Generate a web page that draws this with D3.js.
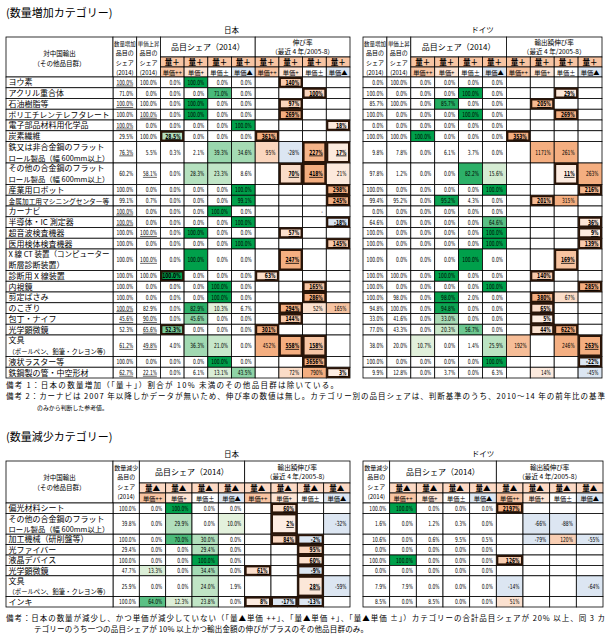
<!DOCTYPE html>
<html>
<head>
<meta charset="utf-8">
<script src="https://cdn.jsdelivr.net/npm/d3@7"></script>
<style>
body { margin: 0; background: #fff; }
text { font-family: "Noto Sans CJK JP", sans-serif; fill: #000; }
.num { font-family: "Liberation Sans Narrow", "DejaVu Sans Condensed", sans-serif; font-size: 7px; }
.cell { stroke: #000; stroke-width: 0.8; }
</style>
</head>
<body>
<script>
// ---- data: 数量増加カテゴリー ----
const upItems = [
    ["ヨウ素"], ["アクリル重合体"], ["石油樹脂等"], ["ポリエチレンテレフタレート"], ["電子部品材料用化学品"],
    ["炭素繊維"], ["鉄又は非合金鋼のフラット", "ロール製品（幅 600mm以上）"],
    ["その他の合金鋼のフラット", "ロール製品（幅 600mm以上）"], ["産業用ロボット"],
    ["金属加工用マシニングセンター等"], ["カーナビ"], ["半導体・IC 測定器"], ["超音波検査機器"],
    ["医用検体検査機器"], ["X 線 CT 装置（コンピューター", "断層診断装置）"], ["診断用 X 線装置"],
    ["内視鏡"], ["剪定ばさみ"], ["のこぎり"], ["包丁・ナイフ"], ["光学顕微鏡"],
    ["文具", "（ボールペン、鉛筆・クレヨン等）"], ["液状ラスター等"], ["鉄鋼製の管・中空形材"]
];
// 数量増加シェア, 単価上昇シェア, 品目シェア(単価++, +, ±, ▲)
const upJpShare = [
    [100.0, 100.0, 0.0, 100.0, 0.0, 0.0], [71.0, 0.0, 0.0, 0.0, 71.0, 0.0],
    [100.0, 100.0, 0.0, 100.0, 0.0, 0.0], [100.0, 100.0, 0.0, 100.0, 0.0, 0.0],
    [100.0, 0.0, 0.0, 0.0, 0.0, 100.0], [29.5, 100.0, 28.5, 0.0, 0.0, 0.0],
    [76.3, 5.5, 0.3, 2.1, 39.3, 34.6], [60.2, 58.1, 0.0, 28.3, 23.3, 8.6],
    [100.0, 0.0, 0.0, 0.0, 0.0, 100.0], [99.1, 0.7, 0.0, 0.0, 0.0, 99.1],
    [100.0, 0.0, 0.0, 0.0, 100.0, 0.0], [100.0, 0.0, 0.0, 0.0, 0.0, 100.0],
    [100.0, 100.0, 0.0, 100.0, 0.0, 0.0], [100.0, 0.0, 0.0, 0.0, 0.0, 100.0],
    [100.0, 100.0, 0.0, 100.0, 0.0, 0.0], [100.0, 100.0, 100.0, 0.0, 0.0, 0.0],
    [100.0, 0.0, 0.0, 0.0, 100.0, 0.0], [100.0, 0.0, 0.0, 0.0, 100.0, 0.0],
    [100.0, 82.9, 0.0, 82.9, 10.3, 6.7], [45.6, 90.0, 0.0, 45.6, 0.0, 0.0],
    [52.3, 65.6, 52.3, 0.0, 0.0, 0.0], [61.2, 49.8, 4.0, 36.3, 21.0, 0.0],
    [100.0, 0.0, 0.0, 0.0, 100.0, 0.0], [62.7, 22.1, 0.0, 6.1, 13.1, 43.5]
];
// 伸び率 (単価++, +, ±, ▲)
const upJpGrowth = [
    [null, 140, null, null], [null, null, 100, null], [null, 97, null, null], [null, 269, null, null],
    [null, null, null, 18], [361, null, null, null], [95, -28, 227, 17], [null, 70, 418, 21],
    [null, null, null, 298], [null, null, null, 245], [null, null, "-", null], [null, null, null, -18],
    [null, 57, null, null], [null, null, null, 145], [null, 247, null, null], [63, null, null, null],
    [null, null, 165, null], [null, null, 286, null], [null, 294, 52, 165], [null, 144, null, null],
    [301, null, null, null], [452, 558, 158, null], [null, null, 3656, null], [null, 72, 790, 3]
];
const upJpPick = [
    [0,1,0,0], [0,0,1,0], [0,1,0,0], [0,1,0,0], [0,0,0,1], [1,0,0,0], [0,0,1,1], [0,1,1,0],
    [0,0,0,1], [0,0,0,1], [0,0,0,0], [0,0,0,1], [0,1,0,0], [0,0,0,1], [0,1,0,0], [1,0,0,0],
    [0,0,1,0], [0,0,1,0], [0,1,0,0], [0,1,0,0], [1,0,0,0], [0,1,1,0], [0,0,1,0], [0,0,0,1]
];
const upJpShareBox = [5, 15, 20];
// underlined shares: 1 = 数量増加, 2 = 単価上昇, 3 = both
const upJpUnder = [1,0,1,2,1,0,1,2,0,0,1,1,2,0,2,0,0,0,1,3,2,3,0,3];

const upDeShare = [
    [0.0, 100.0, 0.0, 0.0, 0.0, 0.0], [100.0, 0.0, 0.0, 0.0, 100.0, 0.0],
    [85.7, 100.0, 0.0, 85.7, 0.0, 0.0], [100.0, 0.0, 0.0, 0.0, 100.0, 0.0],
    [0.0, 0.0, 0.0, 0.0, 0.0, 0.0], [100.0, 100.0, 100.0, 0.0, 0.0, 0.0],
    [9.8, 7.8, 0.0, 6.1, 3.7, 0.0], [97.8, 1.2, 0.0, 0.0, 82.2, 15.6],
    [100.0, 0.0, 0.0, 0.0, 0.0, 100.0], [99.4, 95.2, 0.0, 95.2, 4.3, 0.0],
    [0.0, 0.0, 0.0, 0.0, 0.0, 0.0], [64.6, 0.0, 0.0, 0.0, 0.0, 64.6],
    [100.0, 0.0, 0.0, 0.0, 0.0, 100.0], [100.0, 0.0, 0.0, 0.0, 0.0, 100.0],
    [100.0, 0.0, 0.0, 0.0, 100.0, 0.0], [100.0, 100.0, 0.0, 100.0, 0.0, 0.0],
    [100.0, 0.0, 0.0, 0.0, 0.0, 100.0], [100.0, 98.0, 0.0, 98.0, 2.0, 0.0],
    [94.8, 100.0, 0.0, 94.8, 0.0, 0.0], [33.0, 41.6, 0.0, 33.0, 0.0, 0.0],
    [77.0, 43.3, 0.0, 20.3, 56.7, 0.0], [38.0, 20.0, 10.7, 0.0, 1.4, 25.9],
    [100.0, 0.0, 0.0, 0.0, 0.0, 100.0], [9.9, 12.8, 0.0, 3.7, 0.0, 6.3]
];
const upDeGrowth = [
    [null, null, null, null], [null, null, 29, null], [null, 205, null, null], [null, null, 269, null],
    [null, null, null, null], [353, null, null, null], [null, 1171, 261, null], [null, null, 11, 263],
    [null, null, null, 216], [null, 201, 315, null], [null, null, null, null], [null, null, null, 36],
    [null, null, null, 9], [null, null, null, 139], [null, null, 169, null], [null, 140, null, null],
    [null, null, null, 285], [null, 380, 67, null], [null, 65, null, null], [null, 5, null, null],
    [null, 44, 622, null], [192, null, 246, 263], [null, null, null, -22], [null, 14, null, -45]
];
const upDePick = [
    [0,0,0,0], [0,0,1,0], [0,1,0,0], [0,0,1,0], [0,0,0,0], [1,0,0,0], [0,0,0,0], [0,0,1,0],
    [0,0,0,1], [0,1,0,0], [0,0,0,0], [0,0,0,1], [0,0,0,1], [0,0,0,1], [0,0,1,0], [0,1,0,0],
    [0,0,0,1], [0,1,0,0], [0,1,0,0], [0,1,0,0], [0,1,1,0], [0,0,0,1], [0,0,0,1], [0,0,0,0]
];

// ---- data: 数量減少カテゴリー ----
const downItems = [
    ["偏光材料シート"], ["その他の合金鋼のフラット", "ロール製品（幅 600mm以上）"], ["加工機械（研削盤等）"],
    ["光ファイバー"], ["液晶デバイス"], ["光学顕微鏡"], ["文具", "（ボールペン、鉛筆・クレヨン等）"], ["インキ"]
];
const downJpShare = [
    [100.0, 0.0, 100.0, 0.0, 0.0], [39.8, 0.0, 29.9, 0.0, 10.0], [100.0, 0.0, 70.0, 30.0, 0.0],
    [29.4, 0.0, 0.0, 29.4, 0.0], [100.0, 0.0, 0.0, 100.0, 0.0], [47.7, 13.3, 0.0, 34.4, 0.0],
    [25.9, 0.0, 0.0, 24.0, 1.9], [100.0, 64.0, 12.3, 23.8, 0.0]
];
const downJpGrowth = [
    [null, 60, null, null], [null, 2, null, -32], [null, 84, -2, null], [null, null, 95, null],
    [null, null, 60, null], [61, null, -9, null], [null, null, 28, -59], [8, -17, -13, null]
];
const downJpPick = [
    [0,1,0,0], [0,1,0,0], [0,1,1,0], [0,0,1,0], [0,0,1,0], [1,0,1,0], [0,0,1,0], [1,1,1,0]
];
const downDeShare = [
    [100.0, 100.0, 0.0, 0.0, 0.0], [1.6, 0.0, 1.2, 0.3, 0.0], [10.6, 0.0, 0.6, 9.5, 0.5],
    [0.0, 0.0, 0.0, 0.0, 0.0], [100.0, 100.0, 0.0, 0.0, 0.0], [0.0, 0.0, 0.0, 0.0, 0.0],
    [7.9, 7.9, 0.0, 0.0, 0.0], [8.5, 0.0, 8.5, 0.0, 0.0]
];
const downDeGrowth = [
    [2197, null, null, null], [null, -66, -88, null], [null, -79, 120, -55], [null, null, null, null],
    [126, null, null, null], [null, null, null, null], [-14, null, null, -64], [51, null, null, null]
];
const downDePick = [
    [1,0,0,0], [0,0,0,0], [0,0,0,0], [0,0,0,0], [1,0,0,0], [0,0,0,0], [0,0,0,0], [0,0,0,0]
];

// ---- header texts ----
const upHead = [["数量増加", "品目の", "シェア", "(2014)"], ["単価上昇", "品目の", "シェア", "(2014)"]];
const downHead = [["数量減少", "品目の", "シェア", "(2014)"]];
const priceLabels = ["単価++", "単価+", "単価±", "単価▲"];
const notesUp = [
    "備考 1：日本の数量増加（「量＋」）割合が 10% 未満のその他品目群は除いている。",
    "備考 2：カーナビは 2007 年以降しかデータが無いため、伸び率の数値は無し。カテゴリー別の品目シェアは、判断基準のうち、2010～14 年の前年比の基準",
    "のみから判断した参考値。"
];
const notesDown = [
    "備考：日本の数量が減少し、かつ単価が減少していない（「量▲単価 ++」、「量▲単価 +」、「量▲単価 ±」）カテゴリーの合計品目シェアが 20% 以上、同 3 カ",
    "テゴリーのうち一つの品目シェアが 10% 以上かつ輸出金額の伸びがプラスのその他品目群のみ。"
];

const PRICE_FILLS = ["#f8c4a2", "#fde4d4", "#ffffff", "#dce6f2"];
const NEG_FILL = "#dce6f2";
const PICK_STROKE = "#2a1508";

var green = d3.scaleLinear().domain([10, 100]).range(["#e3f1dc", "#00a04b"]).clamp(true);
var orange = d3.scaleLinear().domain([0, 250]).range(["#fdeee4", "#f4ae80"]).clamp(true);

var svg = d3.select("body").append("svg")
    .attr("width", 611)
    .attr("height", 641);

// shrink the font of a text until it fits maxW
function fit(sel, maxW, size) {
    sel.style("font-size", size + "px");
    var w = sel.node().getComputedTextLength();
    if (w > maxW) sel.style("font-size", (size * maxW / w).toFixed(2) + "px");
    return sel;
}

function drawTable(t) {
    var g = svg.append("g");
    var starts = [];
    var units = 0;
    t.items.forEach(function(lines) { starts.push(units); units += lines.length; });

    var H = t.h1 + t.h2 + t.h3;
    var dataTop = t.top + H;
    var y = d3.scaleLinear().domain([0, units]).range([dataTop, dataTop + units * t.unit]);
    var x = d3.scaleBand().domain(t.cols).range([t.x0 + t.labelW, t.x1]);
    var bw = x.bandwidth();
    var headCols = t.cols.filter(function(c) { return c[0] === "h"; });
    var shareCols = t.cols.filter(function(c) { return c[0] === "s"; });
    var growCols = t.cols.filter(function(c) { return c[0] === "g"; });

    // country name
    g.append("text")
        .attr("x", (t.x0 + t.labelW + t.x1) / 2)
        .attr("y", t.top - 4)
        .attr("text-anchor", "middle")
        .style("font-size", "7.5px")
        .text(t.country);

    // header: label column
    if (t.labelW) {
        g.append("rect").attr("class", "cell").attr("fill", "#fff")
            .attr("x", t.x0).attr("y", t.top).attr("width", t.labelW).attr("height", H);
        ["対中国輸出", "（その他品目群）"].forEach(function(s, k) {
            g.append("text")
                .attr("x", t.x0 + t.labelW / 2)
                .attr("y", t.top + 19 + k * 9.6)
                .attr("text-anchor", "middle")
                .style("font-size", "6.5px")
                .text(s);
        });
    }

    // header: share-of-items columns
    headCols.forEach(function(c, k) {
        g.append("rect").attr("class", "cell").attr("fill", "#fff")
            .attr("x", x(c)).attr("y", t.top).attr("width", bw).attr("height", H);
        t.head[k].forEach(function(s, m) {
            fit(g.append("text")
                .attr("x", x(c) + bw / 2)
                .attr("y", t.top + [8.8, 18.2, 28, 37.6][m])
                .attr("text-anchor", "middle")
                .text(s), bw - 2, 6);
        });
    });

    // header: group titles
    var sx = x(shareCols[0]), sw = x(shareCols[3]) + bw - sx;
    g.append("rect").attr("class", "cell").attr("fill", "#fff")
        .attr("x", sx).attr("y", t.top).attr("width", sw).attr("height", t.h1);
    g.append("text")
        .attr("x", sx + sw / 2).attr("y", t.top + t.h1 / 2 + 3)
        .attr("text-anchor", "middle")
        .style("font-size", "8px")
        .text("品目シェア（2014）");

    var gx = x(growCols[0]), gw = x(growCols[3]) + bw - gx;
    g.append("rect").attr("class", "cell").attr("fill", "#fff")
        .attr("x", gx).attr("y", t.top).attr("width", gw).attr("height", t.h1);
    t.growTitle.forEach(function(s, k) {
        g.append("text")
            .attr("x", gx + gw / 2).attr("y", t.top + t.h1 / 2 - 2.4 + k * 9.7)
            .attr("text-anchor", "middle")
            .style("font-size", "6.6px")
            .text(s);
    });

    // header: quantity / price rows
    var catCols = shareCols.concat(growCols);
    catCols.forEach(function(c, k) {
        g.append("rect").attr("class", "cell").attr("fill", t.catFill)
            .attr("x", x(c)).attr("y", t.top + t.h1).attr("width", bw).attr("height", t.h2);
        g.append("text")
            .attr("x", x(c) + bw / 2).attr("y", t.top + t.h1 + t.h2 - 2)
            .attr("text-anchor", "middle")
            .style("font-size", "7.5px")
            .style("font-weight", "bold")
            .text(t.catLabel);
        g.append("rect").attr("class", "cell").attr("fill", PRICE_FILLS[k % 4])
            .attr("x", x(c)).attr("y", t.top + t.h1 + t.h2).attr("width", bw).attr("height", t.h3);
        fit(g.append("text")
            .attr("x", x(c) + bw / 2).attr("y", t.top + H - 2.2)
            .attr("text-anchor", "middle")
            .text(priceLabels[k % 4]), bw - 2, 6.2);
    });

    // body cells
    var cells = [];
    t.items.forEach(function(lines, i) {
        var n = t.share[i].length;
        t.cols.forEach(function(c, j) {
            var d = { row: i, col: c };
            if (j < n) {
                d.v = t.share[i][j];
                d.kind = c[0] === "s" ? "share" : "head";
                d.pick = d.kind === "share" && c === "s1" && (t.shareBox || []).indexOf(i) >= 0;
                d.under = d.kind === "head" && t.under ? (t.under[i] >> j) & 1 : 0;
            } else {
                d.v = t.growth[i][j - n];
                d.kind = "grow";
                d.pick = t.pick[i][j - n] === 1;
                d.under = 0;
            }
            d.y0 = y(starts[i]);
            d.y1 = y(starts[i] + lines.length);
            cells.push(d);
        });
    });

    function fillOf(d) {
        if (d.kind === "share") return d.v >= 10 ? green(d.v) : "#fff";
        if (d.kind === "grow" && typeof d.v === "number") return d.v < 0 ? NEG_FILL : orange(d.v);
        return "#fff";
    }

    g.append("g").selectAll("rect")
        .data(cells)
        .enter()
        .append("rect")
        .attr("class", "cell")
        .attr("x", function(d) { return x(d.col); })
        .attr("y", function(d) { return d.y0; })
        .attr("width", bw)
        .attr("height", function(d) { return d.y1 - d.y0; })
        .attr("fill", fillOf);

    // row labels
    if (t.labelW) {
        t.items.forEach(function(lines, i) {
            g.append("rect").attr("class", "cell").attr("fill", "#fff")
                .attr("x", t.x0).attr("y", y(starts[i]))
                .attr("width", t.labelW).attr("height", y(starts[i] + lines.length) - y(starts[i]));
            lines.forEach(function(s, k) {
                fit(g.append("text")
                    .attr("x", t.x0 + 2.5)
                    .attr("y", y(starts[i] + k + 0.5) + 3)
                    .text(s), t.labelW - 6, 8);
            });
        });
    }

    // emphasis boxes
    g.append("g").selectAll("rect")
        .data(cells.filter(function(d) { return d.pick; }))
        .enter()
        .append("rect")
        .attr("x", function(d) { return x(d.col) + 1; })
        .attr("y", function(d) { return d.y0 + 1; })
        .attr("width", bw - 2)
        .attr("height", function(d) { return d.y1 - d.y0 - 2; })
        .attr("fill", "none")
        .attr("stroke", PICK_STROKE)
        .attr("stroke-width", 2);

    // numbers
    var shown = cells.filter(function(d) { return d.v !== null; });
    var nums = g.append("g").selectAll("text")
        .data(shown)
        .enter()
        .append("text")
        .attr("class", "num")
        .attr("x", function(d) { return x(d.col) + bw - 3.5; })
        .attr("y", function(d) { return (d.y0 + d.y1) / 2 + 2.5; })
        .attr("text-anchor", "end")
        .style("font-weight", function(d) { return d.pick ? "bold" : null; })
        .text(function(d) {
            if (typeof d.v === "string") return d.v;
            return d.kind === "grow" ? d.v + "%" : d.v.toFixed(1) + "%";
        });
    nums.each(function(d) {
        d.w = this.getComputedTextLength() * 0.7;
        d3.select(this).attr("textLength", d.w).attr("lengthAdjust", "spacingAndGlyphs");
    });

    g.append("g").selectAll("line")
        .data(shown.filter(function(d) { return d.pick || d.under; }))
        .enter()
        .append("line")
        .attr("x1", function(d) { return x(d.col) + bw - 3.5 - d.w; })
        .attr("x2", function(d) { return x(d.col) + bw - 3.5; })
        .attr("y1", function(d) { return (d.y0 + d.y1) / 2 + 3.6; })
        .attr("y2", function(d) { return (d.y0 + d.y1) / 2 + 3.6; })
        .attr("stroke", "#000")
        .attr("stroke-width", function(d) { return d.pick ? 0.8 : 0.6; });
}

// note line spread to span x0..x1
function note(s, x0, x1, yy) {
    var el = svg.append("text")
        .attr("x", x0).attr("y", yy)
        .style("font-size", "7.5px")
        .text(s);
    var w = el.node().getComputedTextLength();
    if (w < x1 - x0) el.attr("textLength", x1 - x0).attr("lengthAdjust", "spacing");
    else el.style("font-size", (7.5 * (x1 - x0) / w).toFixed(2) + "px");
}

var UP_COLS = ["h1", "h2", "s1", "s2", "s3", "s4", "g1", "g2", "g3", "g4"];
var DOWN_COLS = ["h1", "s1", "s2", "s3", "s4", "g1", "g2", "g3", "g4"];

// ---- 数量増加カテゴリー ----
svg.append("text").attr("x", 6).attr("y", 17).style("font-size", "11px").text("(数量増加カテゴリー)");

drawTable({
    country: "日本", x0: 6, x1: 350, labelW: 107, top: 37, h1: 20, h2: 10, h3: 10, unit: 10.75,
    cols: UP_COLS, head: upHead, items: upItems, share: upJpShare, growth: upJpGrowth,
    pick: upJpPick, shareBox: upJpShareBox, under: upJpUnder,
    growTitle: ["伸び率", "（最近 4 年/2005-8）"], catLabel: "量＋", catFill: "#f8c4a2"
});
drawTable({
    country: "ドイツ", x0: 363, x1: 602, labelW: 0, top: 37, h1: 20, h2: 10, h3: 10, unit: 10.75,
    cols: UP_COLS, head: upHead, items: upItems, share: upDeShare, growth: upDeGrowth,
    pick: upDePick, growTitle: ["輸出額伸び率", "（最近 4 年/2005-8）"], catLabel: "量＋", catFill: "#f8c4a2"
});

note(notesUp[0], 6, 338, 387.5);
note(notesUp[1], 6, 605, 398.6);
note(notesUp[2], 37, 108, 409.7);

// ---- 数量減少カテゴリー ----
svg.append("text").attr("x", 6).attr("y", 441).style("font-size", "11px").text("(数量減少カテゴリー)");

drawTable({
    country: "日本", x0: 6, x1: 350, labelW: 107, top: 461, h1: 22, h2: 10, h3: 10, unit: 10.4,
    cols: DOWN_COLS, head: downHead, items: downItems, share: downJpShare, growth: downJpGrowth,
    pick: downJpPick, growTitle: ["輸出額伸び率", "（最近 4 年/2005-8）"], catLabel: "量▲", catFill: "#fcd9c4"
});
drawTable({
    country: "ドイツ", x0: 363, x1: 603, labelW: 0, top: 461, h1: 22, h2: 10, h3: 10, unit: 10.4,
    cols: DOWN_COLS, head: downHead, items: downItems, share: downDeShare, growth: downDeGrowth,
    pick: downDePick, growTitle: ["輸出額伸び率", "（最近 4 年/2005-8）"], catLabel: "量▲", catFill: "#fcd9c4"
});

note(notesDown[0], 6, 605, 621);
note(notesDown[1], 34, 368, 632.1);
</script>
</body>
</html>
